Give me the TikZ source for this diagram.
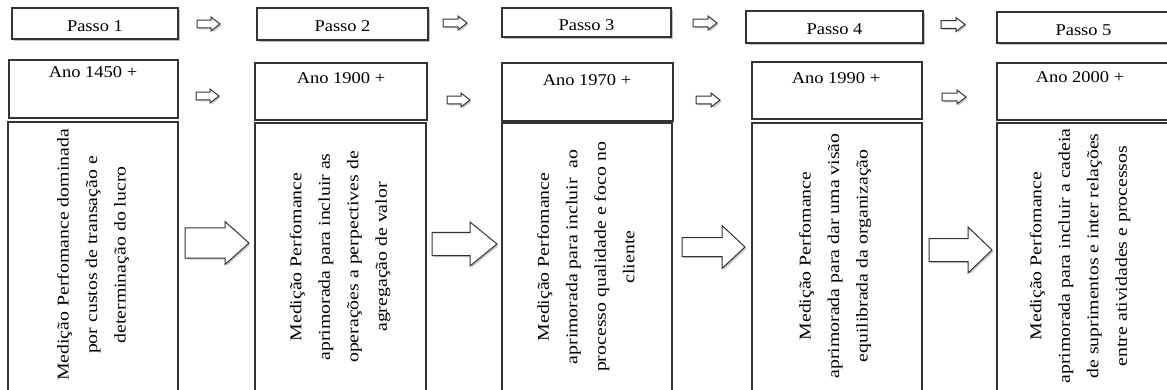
\documentclass[tikz,border=0pt]{standalone}
\usepackage{fontspec}
\setmainfont{Liberation Serif}[FakeStretch=1.12]
\newfontfamily\vertfont{Liberation Serif}[FakeStretch=1.2]
\usetikzlibrary{shadows}

\tikzset{
  frame/.style={draw=black!80, line width=1.1pt, fill=white, inner sep=0pt},
  passobox/.style={frame, text height=16pt, text depth=0pt,
    drop shadow={shadow xshift=1.6pt, shadow yshift=-1.6pt, fill=black!45, opacity=.55},
    font=\fontsize{16.5}{20}\selectfont},
  anobox/.style={frame},
  textbox/.style={frame},
  yeartext/.style={anchor=base, inner sep=0pt, font=\fontsize{16.5}{20}\selectfont},
  vtext/.style={rotate=90, align=center, inner sep=0pt,
    font=\vertfont\fontsize{16.5}{28.5}\selectfont},
  arrowshadow/.style={fill=black!40, draw=none, opacity=.55},
  arrowbody/.style={fill=white, draw=black!80, line width=1pt, line join=miter},
}

% block arrow: tail x, tip x, head base x, centre y, shaft half-width, head half-width
\newcommand\blkarrow[6]{%
  \fill[arrowshadow, shift={(1.6,1.6)}]
    (#1,#4-#5) -- (#3,#4-#5) -- (#3,#4-#6) -- (#2,#4) -- (#3,#4+#6)
    -- (#3,#4+#5) -- (#1,#4+#5) -- cycle;
  \draw[arrowbody]
    (#1,#4-#5) -- (#3,#4-#5) -- (#3,#4-#6) -- (#2,#4) -- (#3,#4+#6)
    -- (#3,#4+#5) -- (#1,#4+#5) -- cycle;
}

\begin{document}
\begin{tikzpicture}[x=1pt, y=-1pt]
\useasboundingbox (0,0) rectangle (1167,390);

% step headers
\node[passobox, minimum width=166, minimum height=31] (p1) at (95,23.5)   {Passo 1};
\node[passobox, minimum width=171, minimum height=32] (p2) at (342.5,24)  {Passo 2};
\node[passobox, minimum width=169, minimum height=29] (p3) at (586.5,22.5){Passo 3};
\node[passobox, minimum width=177, minimum height=32] (p4) at (834.5,27)  {Passo 4};
\node[passobox, minimum width=173, minimum height=31] (p5) at (1083.5,27.5){Passo 5};

% year boxes
\node[anobox, minimum width=169, minimum height=58] (a1) at (93.5,89)   {};
\node[anobox, minimum width=172, minimum height=57] (a2) at (341,91.5)  {};
\node[anobox, minimum width=171, minimum height=58] (a3) at (587.5,92)  {};
\node[anobox, minimum width=170, minimum height=57] (a4) at (837,90.5)  {};
\node[anobox, minimum width=173, minimum height=57] (a5) at (1083.5,91.5){};

\node[yeartext] (y1) at (93,78)   {Ano 1450 +};
\node[yeartext] (y2) at (341,84)  {Ano 1900 +};
\node[yeartext] (y3) at (587,86)  {Ano 1970 +};
\node[yeartext] (y4) at (836,84)  {Ano 1990 +};
\node[yeartext] (y5) at (1080,83) {Ano 2000 +};

% description boxes (they run past the lower edge)
\node[textbox, minimum width=170, minimum height=278] (t1) at (93,261)     {};
\node[textbox, minimum width=171, minimum height=277] (t2) at (340.5,261.5){};
\node[textbox, minimum width=170, minimum height=277] (t3) at (587,261.5)  {};
\node[textbox, minimum width=170, minimum height=277] (t4) at (837,261.5)  {};
\node[textbox, minimum width=173, minimum height=277] (t5) at (1083.5,261.5){};

\node[vtext] (m1) at (93,255)  {Medição Perfomance dominada\\por custos de transação e\\determinação do lucro};
\node[vtext] (m2) at (340,257) {Medição Perfomance\\aprimorada para incluir as\\operações a perpectives de\\agregação de valor};
\node[vtext] (m3) at (586,257) {Medição Perfomance\\aprimorada para incluir\ \ ao\\processo qualidade e foco no\\cliente};
\node[vtext] (m4) at (835,256) {Medição Perfomance\\aprimorada para dar uma visão\\equilibrada da organização};
\node[vtext] (m5) at (1080,256){Medição Perfomance\\aprimorada para incluir a cadeia\\de suprimentos e inter relações\\entre atividades e processos};

% small arrows between headers and year boxes
\blkarrow{197}{220}{211}{24}{3.8}{7}
\blkarrow{196}{219}{210}{96}{3.8}{7}
\blkarrow{443}{467}{458}{23}{3.8}{7}
\blkarrow{447}{470}{461}{100}{3.8}{7}
\blkarrow{693}{717}{708}{23}{3.8}{7}
\blkarrow{696}{720}{711}{100}{3.8}{7}
\blkarrow{941}{965}{956}{24.5}{3.8}{7}
\blkarrow{942}{966}{957}{97}{3.8}{7}

% large arrows between description boxes
\blkarrow{185}{249}{225}{243}{15}{21.5}
\blkarrow{432}{497}{470}{244}{11.5}{22}
\blkarrow{682}{745}{722}{247}{9.5}{21.5}
\blkarrow{929}{992}{968}{250}{11.5}{23}
\end{tikzpicture}
\end{document}
